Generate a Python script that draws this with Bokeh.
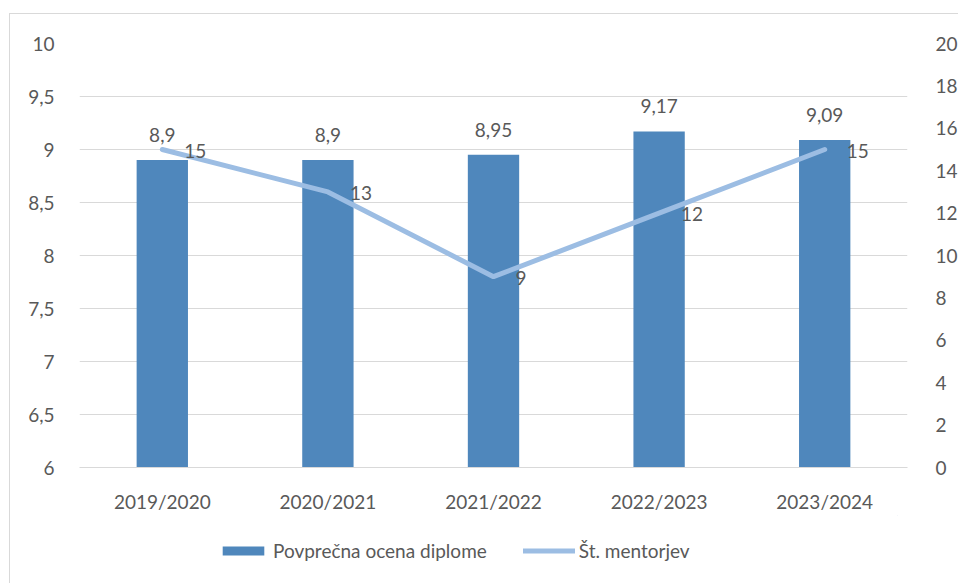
from bokeh.plotting import figure
from bokeh.layouts import column
from bokeh.models import (ColumnDataSource, Range1d, LinearAxis, FixedTicker,
                          CustomJSTickFormatter, LabelSet, Legend, LegendItem)
from bokeh.core.properties import value
from bokeh.embed import file_html
from bokeh.resources import INLINE

years = ["2019/2020", "2020/2021", "2021/2022", "2022/2023", "2023/2024"]
avg_grade = [8.9, 8.9, 8.95, 9.17, 9.09]
mentors = [15, 13, 9, 12, 15]
left_ticks = [6, 6.5, 7, 7.5, 8, 8.5, 9, 9.5, 10]
right_ticks = [0, 2, 4, 6, 8, 10, 12, 14, 16, 18, 20]
series_names = ["Povprečna ocena diplome", "Št. mentorjev"]

FONT = "Lato"
TXT = "#595959"
GRID = "#d9d9d9"
BAR = "#4f87bc"
LINE = "#9cbde3"

def fmt(v):
    s = ("%.2f" % v).rstrip("0").rstrip(".")
    return s.replace(".", ",")

src = ColumnDataSource(dict(
    x=years, y=avg_grade, m=mentors,
    ylab=[fmt(v) for v in avg_grade],
    mlab=[str(v) for v in mentors],
))

p = figure(x_range=years, y_range=Range1d(6, 10),
           frame_width=828, frame_height=424,
           output_backend="svg", toolbar_location=None,
           min_border_left=69, min_border_right=0, min_border_top=29,
           min_border_bottom=45)
p.extra_y_ranges = {"m": Range1d(0, 20)}
p.outline_line_color = None

p.vbar(x="x", top="y", bottom=6, width=0.31, source=src,
       fill_color=BAR, line_color=None)
p.line(x="x", y="m", source=src, y_range_name="m",
       line_color=LINE, line_width=5, line_cap="round")

p.add_layout(LabelSet(x="x", y="y", text="ylab", source=src, text_align="center",
                      text_baseline="middle", y_offset=25, text_font=value(FONT),
                      text_font_size="19px", text_color=TXT))
p.add_layout(LabelSet(x="x", y="m", text="mlab", source=src, y_range_name="m",
                      text_align="left", text_baseline="middle", x_offset=22,
                      y_offset=-1, text_font=value(FONT), text_font_size="19px",
                      text_color=TXT))

ya = p.yaxis[0]
ya.ticker = FixedTicker(ticks=left_ticks)
ya.formatter = CustomJSTickFormatter(code="return tick.toString().replace('.', ',');")
ra = LinearAxis(y_range_name="m", ticker=FixedTicker(ticks=right_ticks))
p.add_layout(ra, "right")
for ax in (ya, ra):
    ax.axis_line_color = None
    ax.major_tick_line_color = None
    ax.minor_tick_line_color = None
    ax.major_label_text_font = FONT
    ax.major_label_text_font_size = "19px"
    ax.major_label_text_color = TXT
ya.major_label_standoff = 19
ra.major_label_standoff = 22

xa = p.xaxis[0]
xa.axis_line_color = GRID
xa.major_tick_line_color = None
xa.major_label_text_font = FONT
xa.major_label_text_font_size = "19px"
xa.major_label_text_color = TXT
xa.major_label_standoff = 16

p.xgrid.grid_line_color = None
p.ygrid.grid_line_color = GRID
p.ygrid.grid_line_width = 1

# legend strip (renderers hold a single off-screen point so that legend glyphs draw)
p2 = figure(width=940, height=69, x_range=Range1d(0, 1), y_range=Range1d(0, 1),
            output_backend="svg", toolbar_location=None, min_border=0)
p2.axis.visible = False
p2.grid.visible = False
p2.outline_line_color = None
r1 = p2.vbar(x=[5], top=[6], bottom=[5], width=0.31, fill_color=BAR, line_color=None)
r2 = p2.line(x=[5, 6], y=[5, 5], line_color=LINE, line_width=5, line_cap="round")
legend = Legend(items=[LegendItem(label=series_names[0], renderers=[r1]),
                       LegendItem(label=series_names[1], renderers=[r2])],
                orientation="horizontal", location=(138, 22),
                label_text_font=FONT, label_text_font_size="19px",
                label_text_color=TXT, glyph_width=52, glyph_height=11,
                label_standoff=4, spacing=36, border_line_color=None,
                background_fill_alpha=0, padding=0, margin=0)
p2.add_layout(legend, "center")

layout = column(p, p2, spacing=0,
                styles={"border-left": "1px solid #d9d9d9",
                        "border-top": "1px solid #d9d9d9",
                        "margin-left": "9px", "margin-top": "13px"})

open("out.html", "w").write(file_html(layout, INLINE))
